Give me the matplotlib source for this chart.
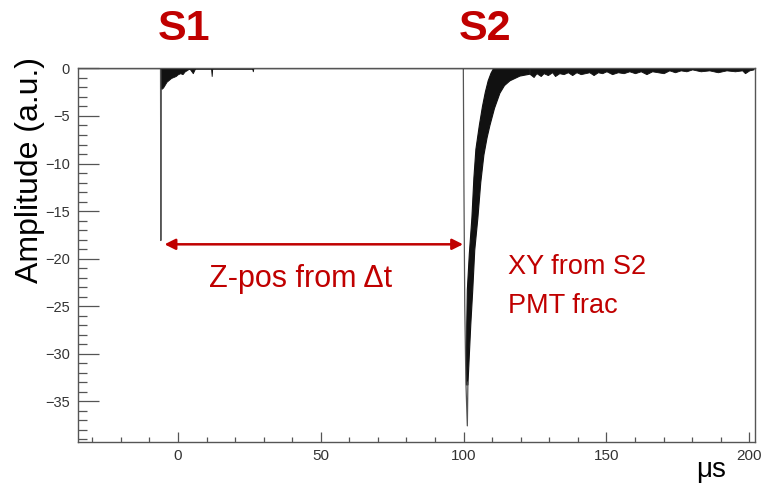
import matplotlib
matplotlib.use("Agg")
import matplotlib.pyplot as plt
from matplotlib.ticker import MultipleLocator

plt.rcParams['font.family'] = ['Liberation Sans', 'DejaVu Sans']

RED = '#c00000'
TRACE = '#111111'

# S1 prompt pulse (thin spike) and its short tail
s1_spike_t = [-6.1, -6.0, -5.9]
s1_spike_amp = [0.0, -18.1, -2.2]
s1_tail_t = [-6.0, -5.2, -4.6, -4.0, -3.2, -2.4, -1.6, -0.8, 0.0, 0.8, 1.6, 2.4, 3.0, 4.0, 5.2, 6.0, 11.6, 11.8, 12.0, 26.0, 26.2, 26.4]
s1_tail_amp = [-2.2, -2.0, -1.7, -1.4, -1.2, -1.0, -0.9, -0.8, -0.6, -0.5, -0.6, -0.3, -0.2, 0.0, -0.5, 0.0, 0.0, -0.8, 0.0, 0.0, -0.3, 0.0]

# S2 falling edge (thin trace)
s2_edge_t = [99.9, 100.1, 100.4, 100.8, 101.3, 101.5]
s2_edge_amp = [0.0, -12.0, -25.0, -33.0, -37.6, -33.0]

# S2 body: upper and lower envelopes of the noisy trace
s2_upper_t = [101.0, 101.1, 101.3, 102.0, 102.9, 103.6, 104.3, 105.5, 106.6, 107.6, 108.6, 109.6, 110.5, 123.2]
s2_upper_amp = [-33.3, -27.0, -23.3, -19.5, -15.7, -11.5, -8.5, -6.0, -4.0, -2.5, -1.3, -0.5, 0.0, 0.0]
s2_lower_t = [101.5, 102.5, 103.2, 103.9, 105.0, 106.0, 107.1, 108.2, 109.2, 110.8, 112.7, 114.3, 116.2, 119.7, 123.2]
s2_lower_amp = [-33.3, -27.0, -23.3, -19.1, -15.7, -12.0, -9.1, -7.3, -6.0, -4.2, -2.6, -1.8, -1.3, -0.8, -0.6]

# S2 long tail (lower envelope of the noise)
s2_tail_t = [123.2, 124.5, 125.5, 127.0, 128.0, 129.5, 131.0, 132.0, 133.5, 135.0, 136.5, 138.0,
             139.5, 141.0, 142.5, 144.0, 145.5, 147.0, 148.5, 150.0, 152.0, 154.0, 156.0, 158.0,
             160.0, 162.0, 164.0, 166.0, 168.0, 170.0, 172.0, 174.0, 176.0, 178.0, 180.0, 183.0,
             186.0, 189.0, 192.0, 195.0, 197.5, 198.5, 200.0, 201.5]
s2_tail_amp = [-0.6, -0.9, -0.5, -0.8, -0.5, -0.7, -0.4, -0.8, -0.5, -0.6, -0.4, -0.7,
               -0.4, -0.6, -0.5, -0.4, -0.7, -0.4, -0.5, -0.3, -0.6, -0.4, -0.5, -0.3,
               -0.5, -0.3, -0.6, -0.3, -0.4, -0.5, -0.2, -0.4, -0.2, -0.3, -0.1, -0.3,
               -0.2, -0.4, -0.2, -0.3, -0.2, -0.5, -0.2, -0.1]

fig = plt.figure(figsize=(7.63, 4.86), dpi=100)
ax = fig.add_axes([0.1022, 0.0905, 0.8873, 0.7696])

ax.fill_between(s1_tail_t, s1_tail_amp, 0, color=TRACE, lw=0.6)
ax.plot(s1_spike_t, s1_spike_amp, color='#555555', lw=0.9)

ax.fill(s2_upper_t + s2_lower_t[::-1], s2_upper_amp + s2_lower_amp[::-1],
        color=TRACE, lw=0.8)
ax.fill_between(s2_tail_t, s2_tail_amp, 0, color=TRACE, lw=0.6)
ax.plot(s2_edge_t, s2_edge_amp, color='#555555', lw=0.9)
ax.plot([-35, 202], [0, 0], color=TRACE, lw=1.0)

ax.set_xlim(-35, 202)
ax.set_ylim(-39.3, 0.05)
ax.xaxis.set_major_locator(MultipleLocator(50))
ax.xaxis.set_minor_locator(MultipleLocator(10))
ax.yaxis.set_major_locator(MultipleLocator(5))
ax.yaxis.set_minor_locator(MultipleLocator(1))
ax.tick_params(axis='both', which='both', direction='in', colors='#555555', width=0.9,
               labelcolor='#333333')
ax.tick_params(axis='x', which='major', length=7, pad=5, labelsize=11)
ax.tick_params(axis='x', which='minor', length=3.5)
ax.tick_params(axis='y', which='major', length=15, pad=6, labelsize=10.5)
ax.tick_params(axis='y', which='minor', length=6.5)
for sp in ax.spines.values():
    sp.set_color('#555555')
    sp.set_linewidth(1.0)

fig.text(0.039, 1 - 170 / 486, 'Amplitude (a.u.)', rotation=90, ha='center', va='center',
         fontsize=23)
fig.text(726 / 763, 1 - 477 / 486, 'μs', ha='right', va='baseline', fontsize=20)

fig.text(184 / 763, 1 - 29 / 486, 'S1', color=RED, fontsize=31, fontweight='bold',
         ha='center', va='center')
fig.text(485 / 763, 1 - 29 / 486, 'S2', color=RED, fontsize=31, fontweight='bold',
         ha='center', va='center')

ax.annotate('', xy=(99.8, -18.5), xytext=(-4.7, -18.5),
            arrowprops=dict(arrowstyle='<|-|>', color=RED, lw=1.8, mutation_scale=16,
                            shrinkA=0, shrinkB=0))
ax.text(43, -22.1, 'Z-pos from Δt', color=RED, fontsize=22, ha='center', va='center')
ax.text(115.5, -20.9, 'XY from S2', color=RED, fontsize=19.5, ha='left', va='center')
ax.text(115.5, -25.0, 'PMT frac', color=RED, fontsize=19.5, ha='left', va='center')

fig.savefig('out.png', dpi=100)
